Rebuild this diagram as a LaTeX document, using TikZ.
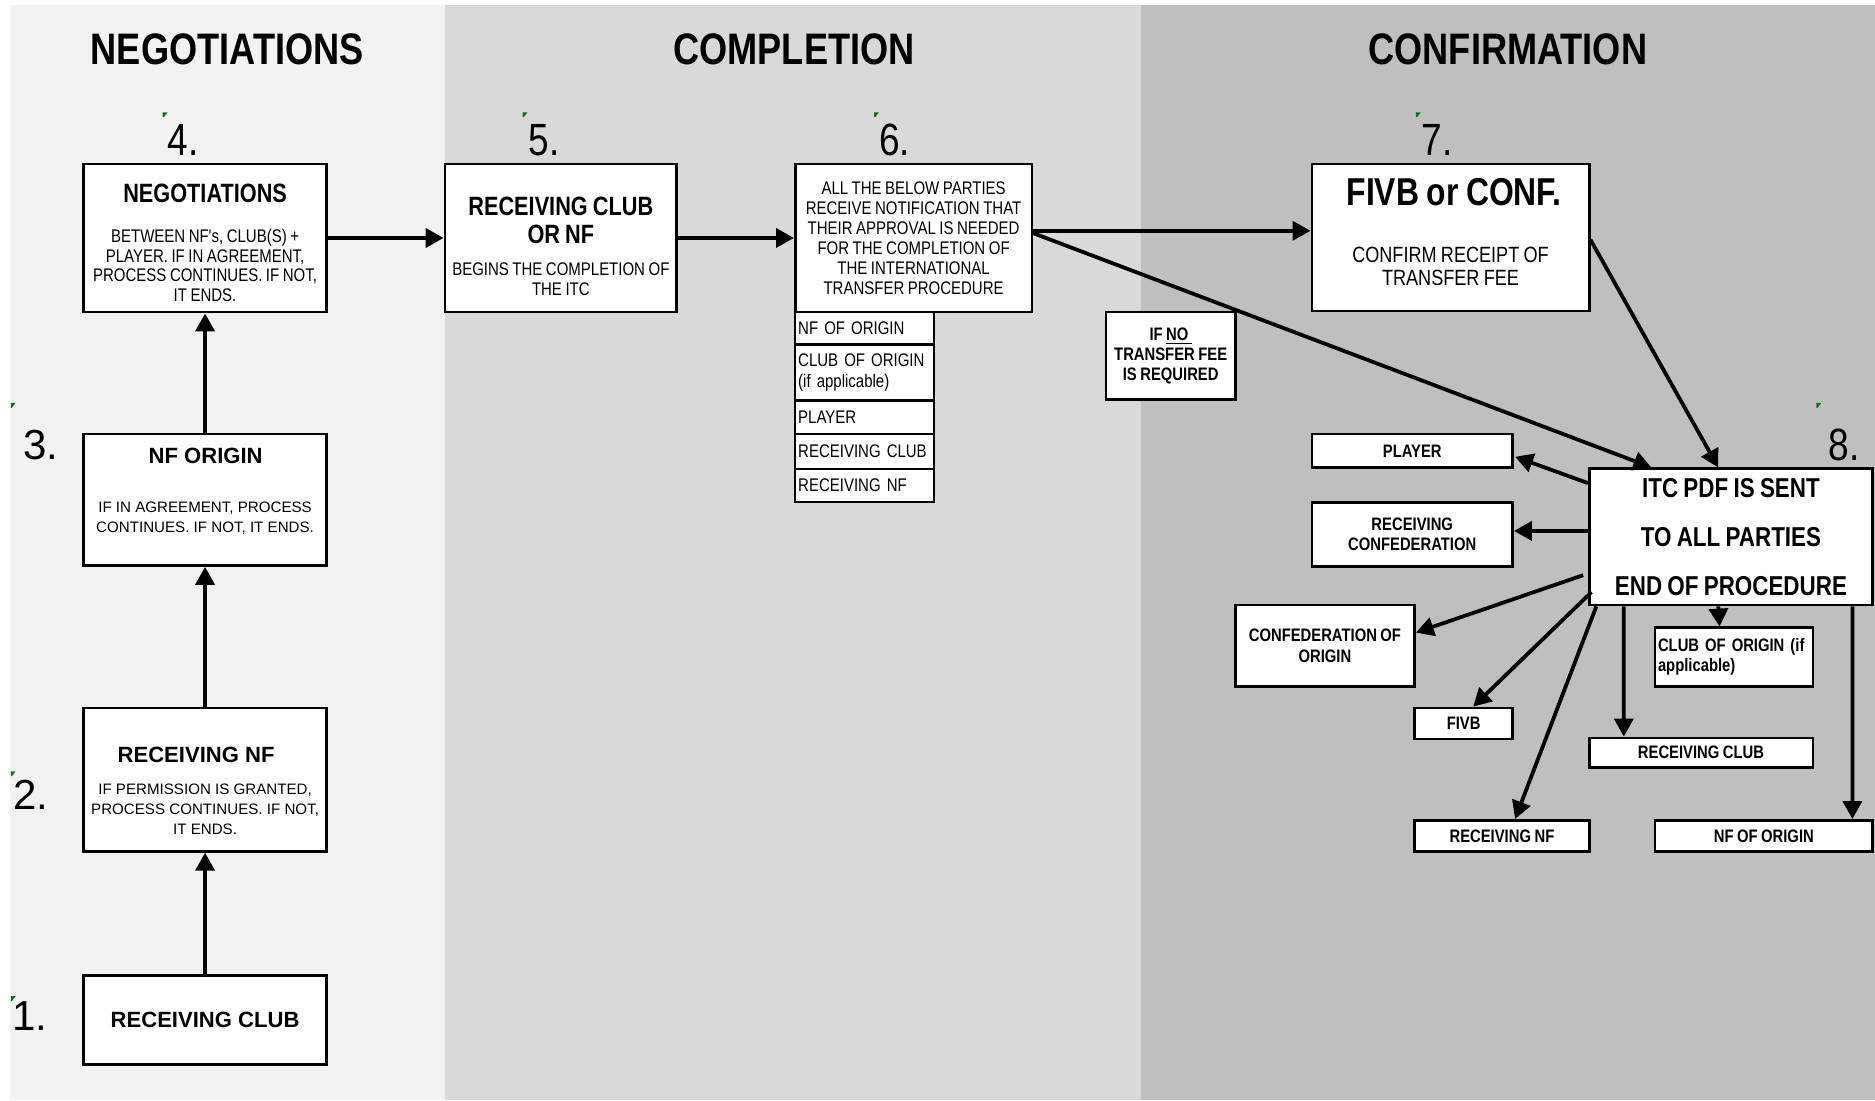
\documentclass[tikz,border=0pt]{standalone}
\usepackage{fontspec}
\setmainfont{Liberation Sans}
\newfontfamily\narrowfont[FakeStretch=0.82,WordSpace=0.85]{Liberation Sans}
\usetikzlibrary{arrows.meta,calc,positioning}
\tikzset{
	mainbox/.style={draw, fill=white, line width=1.25pt, inner sep=0pt},
	smallbox/.style={draw, fill=white, line width=1.25pt, inner sep=0pt, align=center,
		font=\narrowfont\bfseries\fontsize{8.6}{9.6}\selectfont},
	listrow/.style={draw, fill=white, line width=1.1pt, inner xsep=1.5pt, inner ysep=0pt,
		text width=2.22cm, align=left, font=\narrowfont\fontsize{8.7}{10.2}\selectfont},
	phasetitle/.style={font=\narrowfont\bfseries\fontsize{21}{24}\selectfont, inner sep=0pt},
	stepnum/.style={font=\fontsize{20}{22}\selectfont, inner sep=0pt},
	stepnumn/.style={font=\narrowfont\fontsize{21.5}{24}\selectfont, inner sep=0pt},
	boxhead/.style={font=\narrowfont\bfseries\fontsize{12.6}{13.1}\selectfont, align=center, inner sep=0pt},
	boxheadw/.style={font=\bfseries\fontsize{10.5}{12}\selectfont, align=center, inner sep=0pt},
	boxtext/.style={font=\narrowfont\fontsize{8.7}{9.5}\selectfont, align=center, inner sep=0pt},
	boxtextw/.style={font=\fontsize{7.2}{9.6}\selectfont, align=center, inner sep=0pt},
	conn/.style={->, line width=1.8pt}
}
\definecolor{negColor}{HTML}{F2F2F2}
\definecolor{comColor}{HTML}{D9D9D9}
\definecolor{cnfColor}{HTML}{BFBFBF}
\definecolor{tickColor}{HTML}{008000}

\begin{document}
\begin{tikzpicture}[x=0.02cm, y=-0.02cm, >={Triangle[length=8.5pt,width=9pt]}]
\useasboundingbox (0,0) rectangle (1568,920);
% phase bands
\fill[negColor] (8,4) rectangle (372,920);
\fill[comColor] (372,4) rectangle (954,920);
\fill[cnfColor] (954,4) rectangle (1568,920);
\node[phasetitle] (tNeg) at (190,41) {NEGOTIATIONS};
\node[phasetitle] (tCom) at (664,41) {COMPLETION};
\node[phasetitle] (tCnf) at (1261,41) {CONFIRMATION};
% small green corner marks
\foreach \x/\y in {136/94, 437/94, 731/94, 1184/94, 1519/337, 9/337, 9/645, 9/833}
	\fill[tickColor] (\x,\y) -- ++(4,0) -- ++(-3,4) -- ++(-1,0) -- cycle;
% step numbers
\foreach \n/\x/\y in {1/25/850, 2/26/665, 3/34/372}
	\node[stepnum] (n\n) at (\x,\y) {\n.};
\foreach \n/\x/\y in {4/153/117, 5/455/117, 6/748/117, 7/1202/117, 8/1542/372}
	\node[stepnumn] (n\n) at (\x,\y) {\n.};

\node[mainbox, minimum width=4.06cm, minimum height=1.48cm, font=\bfseries\fontsize{10.5}{12}\selectfont] (b1) at (171.5,853) {RECEIVING CLUB};
\node[mainbox, minimum width=4.06cm, minimum height=2.4cm] (b2) at (171.5,652) {};
\node[boxheadw] (b2h) at (164,631) {RECEIVING NF};
\node[boxtextw] (b2t) at (171.5,676.5) {IF PERMISSION IS GRANTED,\\PROCESS CONTINUES. IF NOT,\\IT ENDS.};
\node[mainbox, minimum width=4.06cm, minimum height=2.2cm] (b3) at (171.5,418) {};
\node[boxheadw] (b3h) at (172,381) {NF ORIGIN};
\node[boxtextw] (b3t) at (171.5,433.5) {IF IN AGREEMENT, PROCESS\\CONTINUES. IF NOT, IT ENDS.};
\node[mainbox, minimum width=4.06cm, minimum height=2.48cm] (b4) at (171.5,199) {};
\node[boxhead] (b4h) at (171.5,162) {NEGOTIATIONS};
\node[boxtext] (b4t) at (171.5,222) {BETWEEN NF's, CLUB(S) +\\PLAYER. IF IN AGREEMENT,\\PROCESS CONTINUES. IF NOT,\\IT ENDS.};
\node[mainbox, minimum width=3.88cm, minimum height=2.48cm] (b5) at (469,199) {};
\node[boxhead] (b5h) at (469,184.5) {RECEIVING CLUB\\OR NF};
\node[boxtext] (b5t) at (469,233.5) {BEGINS THE COMPLETION OF\\THE ITC};
\node[mainbox, minimum width=3.96cm, minimum height=2.48cm] (b6) at (764,199) {};
\node[boxtext] (b6t) at (764,199) {ALL THE BELOW PARTIES\\RECEIVE NOTIFICATION THAT\\THEIR APPROVAL IS NEEDED\\FOR THE COMPLETION OF\\THE INTERNATIONAL\\TRANSFER PROCEDURE};
\node[listrow, minimum height=0.54cm] (r1) at (723,274.5) {NF OF ORIGIN};
\node[listrow, minimum height=0.94cm] (r2) at (723,311.5) {CLUB OF ORIGIN\\(if applicable)};
\node[listrow, minimum height=0.56cm] (r3) at (723,349) {PLAYER};
\node[listrow, minimum height=0.58cm] (r4) at (723,377.5) {RECEIVING CLUB};
\node[listrow, minimum height=0.56cm] (r5) at (723,406) {RECEIVING NF};
\node[mainbox, minimum width=4.64cm, minimum height=2.46cm] (b7) at (1213,198.5) {};
\node[boxhead, font=\narrowfont\bfseries\fontsize{18.5}{20}\selectfont] (b7h) at (1216,161) {FIVB or CONF.};
\node[boxtext, font=\narrowfont\fontsize{10.5}{10.8}\selectfont] (b7t) at (1213,222.5) {CONFIRM RECEIPT OF\\TRANSFER FEE};
\node[smallbox, minimum width=2.16cm, minimum height=1.46cm, font=\narrowfont\bfseries\fontsize{8.6}{9.4}\selectfont] (fee) at (979,297.5) {IF \underline{NO\ }\\TRANSFER FEE\\IS REQUIRED};
\node[mainbox, minimum width=4.74cm, minimum height=2.28cm, align=center, font=\narrowfont\bfseries\fontsize{13}{23.3}\selectfont] (b8) at (1447.5,449) {ITC PDF IS SENT\\TO ALL PARTIES\\END OF PROCEDURE};
% parties receiving the ITC
\node[smallbox, minimum width=3.36cm, minimum height=0.56cm] (pl) at (1181,377) {PLAYER};
\node[smallbox, minimum width=3.36cm, minimum height=1.08cm] (rconf) at (1181,447) {RECEIVING\\CONFEDERATION};
\node[smallbox, minimum width=3cm, minimum height=1.36cm] (conf) at (1108,540) {CONFEDERATION OF\\ORIGIN};
\node[smallbox, inner xsep=1.5pt, text width=2.54cm, align=left, minimum height=0.98cm] (corig) at (1450,549.5) {CLUB OF ORIGIN (if\\applicable)};
\node[smallbox, minimum width=1.64cm, minimum height=0.52cm] (fivb) at (1224,605) {FIVB};
\node[smallbox, minimum width=3.74cm, minimum height=0.5cm] (rclub) at (1422.5,629.5) {RECEIVING CLUB};
\node[smallbox, minimum width=2.92cm, minimum height=0.52cm] (rnf) at (1256,699) {RECEIVING NF};
\node[smallbox, minimum width=3.64cm, minimum height=0.52cm] (nfo) at (1475,699) {NF OF ORIGIN};

\draw[conn] (b1) -- (b2);
\draw[conn] (b2) -- (b3);
\draw[conn] (b3) -- (b4);
\draw[conn] (b4) -- (b5);
\draw[conn] (b5) -- (b6);
\draw[conn] ($(b6.east)+(0,-6)$) -- ($(b7.west)+(0,-5.5)$);
\draw[conn] ($(b6.east)+(0,-4)$) -- ($(b8.north west)+(53,0)$);
\draw[conn] ($(b7.east)+(0,2)$) -- ($(b8.north west)+(109,0)$);
\draw[conn] ($(b8.west)+(0,-45)$) -- ($(pl.east)+(1,5)$);
\draw[conn] ($(b8.west)+(0,-5)$) -- ($(rconf.east)+(0,-3)$);
\draw[conn] ($(b8.west)+(-4,32)$) -- ($(conf.east)+(0,-11)$);
\draw[conn] ($(b8.south west)+(3,-12)$) -- ($(fivb.north)+(8,0)$);
\draw[conn] ($(b8.south west)+(7,0)$) -- ($(rnf.north)+(11,0)$);
\draw[conn] ($(b8.south west)+(30,0)$) -- ($(rclub.north west)+(30,0)$);
\draw[conn] ($(b8.south west)+(109,0)$) -- ($(corig.north)+(-12,0)$);
\draw[conn] ($(b8.south east)+(-18,0)$) -- ($(nfo.north east)+(-18,0)$);
\end{tikzpicture}
\end{document}
